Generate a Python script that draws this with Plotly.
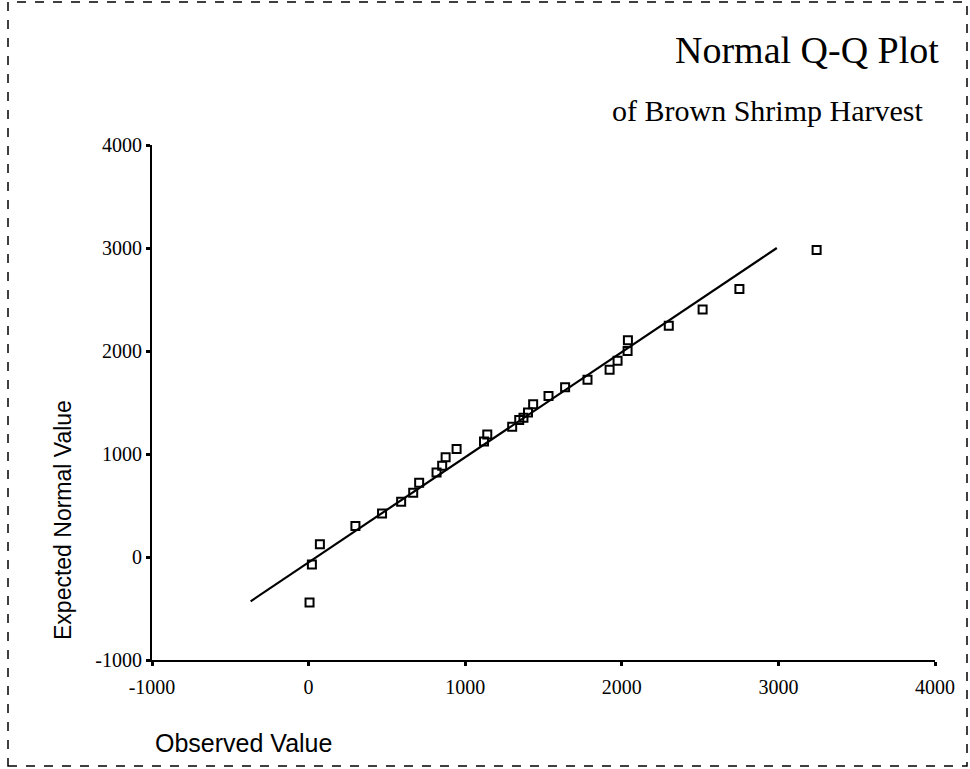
import plotly.graph_objects as go

observed = [6, 21, 72, 299, 469, 591, 668, 706, 817, 853, 875, 945, 1120, 1141,
            1300, 1345, 1372, 1401, 1434, 1532, 1638, 1781, 1922, 1973, 2037, 2039,
            2300, 2516, 2751, 3244]
expected = [-441, -72, 125, 301, 422, 536, 624, 722, 820, 885, 968, 1049, 1121, 1189,
            1265, 1330, 1352, 1402, 1483, 1562, 1647, 1722, 1817, 1905, 2000, 2105,
            2245, 2402, 2601, 2980]
line_x = [-370, 2990]
line_y = [-430, 3000]
tick_vals = [-1000, 0, 1000, 2000, 3000, 4000]
tick_text = ["-1000", "0", "1000", "2000", "3000", "4000"]

fig = go.Figure()
fig.add_trace(go.Scatter(x=line_x, y=line_y, mode="lines",
                         line=dict(color="black", width=2.2), showlegend=False))
fig.add_trace(go.Scatter(x=observed, y=expected, mode="markers",
                         marker=dict(symbol="square-open", size=8, color="black",
                                     line=dict(width=2, color="black")),
                         showlegend=False))

serif = "Liberation Serif, Times New Roman, serif"
sans = "Liberation Sans, Arial, sans-serif"

L, T, PW, PH = 152, 145, 783, 515
def px(x):
    return (x - L) / PW
def py(y):
    return (T + PH - y) / PH

fig.update_layout(
    width=970, height=769,
    margin=dict(l=L, r=970 - L - PW, t=T, b=769 - T - PH),
    paper_bgcolor="white", plot_bgcolor="white",
    showlegend=False,
    xaxis=dict(range=[-1000, 4000], tickvals=tick_vals, ticktext=tick_text,
               showgrid=False, zeroline=False,
               showline=True, linecolor="black", linewidth=2,
               ticks="outside", ticklen=4, tickwidth=3, tickcolor="black",
               ticklabelstandoff=4,
               tickfont=dict(family=serif, size=20, color="black")),
    yaxis=dict(range=[-1000, 4000], tickvals=tick_vals, ticktext=tick_text,
               showgrid=False, zeroline=False,
               showline=True, linecolor="black", linewidth=2,
               ticks="outside", ticklen=4, tickwidth=3, tickcolor="black",
               tickfont=dict(family=serif, size=20, color="black")),
    shapes=[dict(type="rect", xref="paper", yref="paper",
                 x0=px(8), x1=px(967), y0=py(766), y1=py(2),
                 line=dict(color="black", width=1.5, dash="dash"))],
    annotations=[
        dict(text="Normal Q-Q Plot", xref="paper", yref="paper",
             x=px(941), y=py(50), xanchor="right", yanchor="middle",
             showarrow=False, font=dict(family=serif, size=38, color="black")),
        dict(text="of Brown Shrimp Harvest", xref="paper", yref="paper",
             x=px(925), y=py(110), xanchor="right", yanchor="middle",
             showarrow=False, font=dict(family=serif, size=30, color="black")),
        dict(text="Expected Normal Value", xref="paper", yref="paper",
             x=px(63), y=py(520), xanchor="center", yanchor="middle",
             textangle=-90, showarrow=False,
             font=dict(family=sans, size=23, color="black")),
        dict(text="Observed Value", xref="paper", yref="paper",
             x=px(153), y=py(743), xanchor="left", yanchor="middle",
             showarrow=False, font=dict(family=sans, size=25, color="black")),
    ],
)

fig.write_html("out.html", config={"displayModeBar": False},
               post_script="document.body.style.margin='0';document.body.style.overflow='hidden';")
